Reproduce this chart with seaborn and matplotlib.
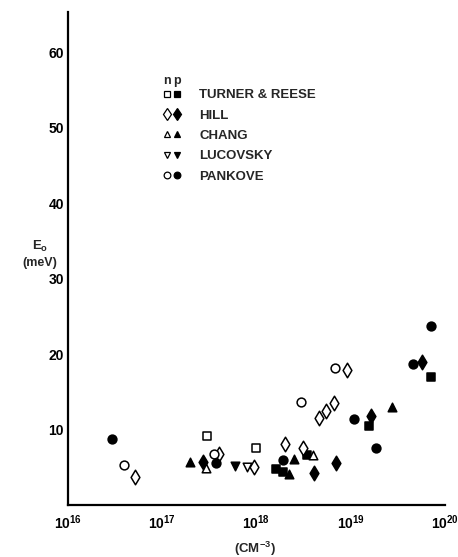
import numpy as np
import pandas as pd
import matplotlib
matplotlib.use("Agg")
import matplotlib.pyplot as plt
import seaborn as sns
from matplotlib.legend_handler import HandlerTuple
from matplotlib.lines import Line2D

# ---------------- data ----------------
# carrier concentration (cm^-3) and E0 (meV)
turner_n_N = [2.95e17, 9.8e17]
turner_n_E = [9.1, 7.6]
turner_p_N = [1.62e18, 1.9e18, 3.4e18, 1.58e19, 7.1e19]
turner_p_E = [4.8, 4.4, 6.6, 10.5, 16.9]

hill_n_N = [5.1e16, 4.0e17, 9.3e17, 2.0e18, 3.15e18, 4.6e18, 5.5e18, 6.6e18, 9.1e18]
hill_n_E = [3.7, 6.7, 5.0, 8.1, 7.5, 11.5, 12.5, 13.5, 17.9]
hill_p_N = [2.7e17, 4.1e18, 6.9e18, 1.66e19, 5.75e19]
hill_p_E = [5.7, 4.2, 5.6, 11.8, 19.0]

chang_n_N = [2.9e17, 4.0e18]
chang_n_E = [4.9, 6.6]
chang_p_N = [1.95e17, 2.2e18, 2.5e18, 2.75e19]
chang_p_E = [5.7, 4.1, 6.1, 13.0]

luco_n_N = [7.9e17]
luco_n_E = [5.0]
luco_p_N = [5.9e17]
luco_p_E = [5.2]

pank_n_N = [3.9e16, 3.5e17, 3.0e18, 6.8e18]
pank_n_E = [5.3, 6.7, 13.6, 18.2]
pank_p_N = [2.95e16, 3.7e17, 1.9e18, 1.07e19, 1.86e19, 4.6e19, 7.1e19]
pank_p_E = [8.8, 5.6, 6.0, 11.4, 7.6, 18.7, 23.7]

sources = ["TURNER & REESE", "HILL", "CHANG", "LUCOVSKY", "PANKOVE"]
x_ticks = [1e16, 1e17, 1e18, 1e19, 1e20]
x_tick_labels = [r"$\mathregular{10^{16}}$", r"$\mathregular{10^{17}}$",
                 r"$\mathregular{10^{18}}$", r"$\mathregular{10^{19}}$",
                 r"$\mathregular{10^{20}}$"]
y_ticks = [10, 20, 30, 40, 50, 60]
y_minor_ticks = [5, 15, 25, 35, 45, 55]

series = {
    ("TURNER & REESE", "n"): (turner_n_N, turner_n_E),
    ("TURNER & REESE", "p"): (turner_p_N, turner_p_E),
    ("HILL", "n"): (hill_n_N, hill_n_E),
    ("HILL", "p"): (hill_p_N, hill_p_E),
    ("CHANG", "n"): (chang_n_N, chang_n_E),
    ("CHANG", "p"): (chang_p_N, chang_p_E),
    ("LUCOVSKY", "n"): (luco_n_N, luco_n_E),
    ("LUCOVSKY", "p"): (luco_p_N, luco_p_E),
    ("PANKOVE", "n"): (pank_n_N, pank_n_E),
    ("PANKOVE", "p"): (pank_p_N, pank_p_E),
}
rows = []
for (src, typ), (Ns, Es) in series.items():
    for n_, e_ in zip(Ns, Es):
        rows.append({"N": n_, "E": e_, "source": src, "type": typ})
df = pd.DataFrame(rows)

# ---------------- style ----------------
sns.set_theme(style="white")
plt.rcParams["font.family"] = ["Liberation Sans", "DejaVu Sans"]
plt.rcParams["font.weight"] = "bold"
plt.rcParams["mathtext.fontset"] = "custom"
plt.rcParams["mathtext.rm"] = "Liberation Sans:bold"
plt.rcParams["mathtext.default"] = "regular"

markers = {"TURNER & REESE": "s", "HILL": "d", "CHANG": "^", "LUCOVSKY": "v", "PANKOVE": "o"}
sizes = {"TURNER & REESE": 30, "HILL": 55, "CHANG": 38, "LUCOVSKY": 38, "PANKOVE": 40}

fig = plt.figure(figsize=(4.58, 5.57), dpi=100)
ax = fig.add_axes([68 / 458, 1 - 505 / 557, (445 - 68) / 458, (505 - 12) / 557])

for src in sources:
    for typ in ["n", "p"]:
        sub = df[(df.source == src) & (df.type == typ)]
        sns.scatterplot(data=sub, x="N", y="E", ax=ax, marker=markers[src],
                        s=sizes[src],
                        facecolor=("white" if typ == "n" else "black"),
                        edgecolor="black", linewidth=1.1, zorder=3,
                        legend=False)

ax.set_xscale("log")
ax.set_xlim(1e16, 1e20)
ax.set_ylim(0, 65.3)
ax.set_xticks(x_ticks)
ax.set_xticklabels(x_tick_labels)
ax.minorticks_off()
ax.set_yticks(y_ticks)
ax.set_yticks(y_minor_ticks, minor=True)
ax.tick_params(axis="both", which="both", direction="in", length=6, width=1.3,
               colors="black", labelsize=10)
ax.tick_params(axis="x", pad=6)
ax.tick_params(axis="y", pad=3)
for lab in ax.get_xticklabels() + ax.get_yticklabels():
    lab.set_fontweight("bold")
for s in ["top", "right"]:
    ax.spines[s].set_visible(False)
for s in ["left", "bottom"]:
    ax.spines[s].set_linewidth(1.6)
    ax.spines[s].set_color("black")
ax.set_xlabel("")
ax.set_ylabel("")

# axis titles
fig.text(40 / 458, 1 - 246 / 557, r"E$_\mathregular{o}$", ha="center", va="center",
         fontsize=9.5, fontweight="bold")
fig.text(40 / 458, 1 - 263 / 557, "(meV)", ha="center", va="center",
         fontsize=9, fontweight="bold")
fig.text(255 / 458, 1 - 549 / 557, r"(CM$^{-3}$)", ha="center", va="center",
         fontsize=9.5, fontweight="bold")

# legend: open (n) and filled (p) marker per source
fs = 9.5
handles = []
for src in sources:
    ms = 4.8 if src != "HILL" else 6.0
    h_n = Line2D([], [], ls="none", marker=markers[src], markersize=ms,
                 markerfacecolor="white", markeredgecolor="black", markeredgewidth=0.9)
    h_p = Line2D([], [], ls="none", marker=markers[src], markersize=ms,
                 markerfacecolor="black", markeredgecolor="black", markeredgewidth=0.9)
    handles.append((h_n, h_p))
leg = ax.legend(handles, sources, handler_map={tuple: HandlerTuple(ndivide=None, pad=0.0)},
                loc="upper left", bbox_to_anchor=((162 - 68) / 377, (505 - 89) / 493),
                frameon=False, prop={"size": fs, "weight": "bold"},
                handlelength=1.52, handletextpad=1.29, labelspacing=0.62,
                borderaxespad=0, borderpad=0)
fig.text(167 / 458, 1 - 81 / 557, "n", ha="center", va="center", fontsize=9, fontweight="bold")
fig.text(177 / 458, 1 - 81 / 557, "p", ha="center", va="center", fontsize=9, fontweight="bold")

fig.savefig("out.png", dpi=100, facecolor="white")
